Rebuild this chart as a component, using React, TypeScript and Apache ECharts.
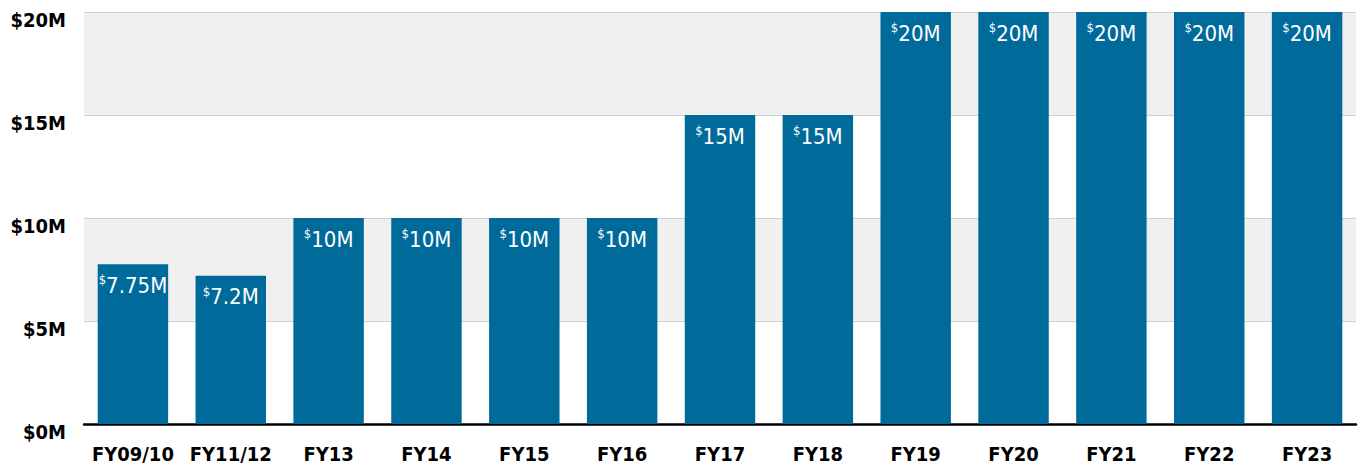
import React, { useEffect, useRef } from "react";
import * as echarts from "echarts";

const categories = ["FY09/10", "FY11/12", "FY13", "FY14", "FY15", "FY16", "FY17", "FY18", "FY19", "FY20", "FY21", "FY22", "FY23"];
const values = [7.75, 7.2, 10, 10, 10, 10, 15, 15, 20, 20, 20, 20, 20];
const valueLabels = ["7.75M", "7.2M", "10M", "10M", "10M", "10M", "15M", "15M", "20M", "20M", "20M", "20M", "20M"];

const FONT = "'Liberation Sans Narrow', 'Arial Narrow', 'DejaVu Sans Condensed', sans-serif";

export default function App() {
  const ref = useRef<HTMLDivElement>(null);
  useEffect(() => {
    if (!ref.current) return;
    const chart = echarts.init(ref.current, null, { renderer: "svg" });
    chart.setOption({
      animation: false,
      grid: { left: 84, right: 5, top: 12, bottom: 43, containLabel: false },
      xAxis: {
        type: "category",
        data: categories,
        axisLine: { show: true, lineStyle: { color: "#000", width: 2.5 } },
        axisTick: { show: false },
        axisLabel: {
          interval: 0,
          color: "#000",
          fontFamily: FONT,
          fontWeight: "bold",
          fontSize: 20,
          margin: 20,
        },
      },
      yAxis: {
        type: "value",
        min: 0,
        max: 20,
        interval: 5,
        axisLine: { show: false },
        axisTick: { show: false },
        splitLine: { show: true, lineStyle: { color: "#d0d0d0", width: 1 } },
        splitArea: { show: true, areaStyle: { color: ["#ffffff", "#f0f0f0"] } },
        axisLabel: {
          color: "#000",
          fontFamily: FONT,
          fontWeight: "bold",
          fontSize: 20,
          margin: 18,
          verticalAlign: "top",
          padding: [-2, 0, 0, 0],
          formatter: (v: number) => "$" + v + "M",
        },
      },
      series: [
        {
          type: "bar",
          data: values,
          barWidth: "72%",
          itemStyle: { color: "#006a9b" },
          label: {
            show: true,
            position: "insideTop",
            distance: 9,
            formatter: (p: any) => "{s|$}{v|" + valueLabels[p.dataIndex] + "}",
            rich: {
              s: { fontFamily: FONT, fontSize: 13, color: "#fff", verticalAlign: "top", lineHeight: 14 },
              v: { fontFamily: FONT, fontSize: 22, color: "#fff", lineHeight: 24 },
            },
          },
        },
      ],
    });
    return () => chart.dispose();
  }, []);
  return <div ref={ref} style={{ width: 1361, height: 467, position: "absolute", left: 0, top: 0 }} />;
}
